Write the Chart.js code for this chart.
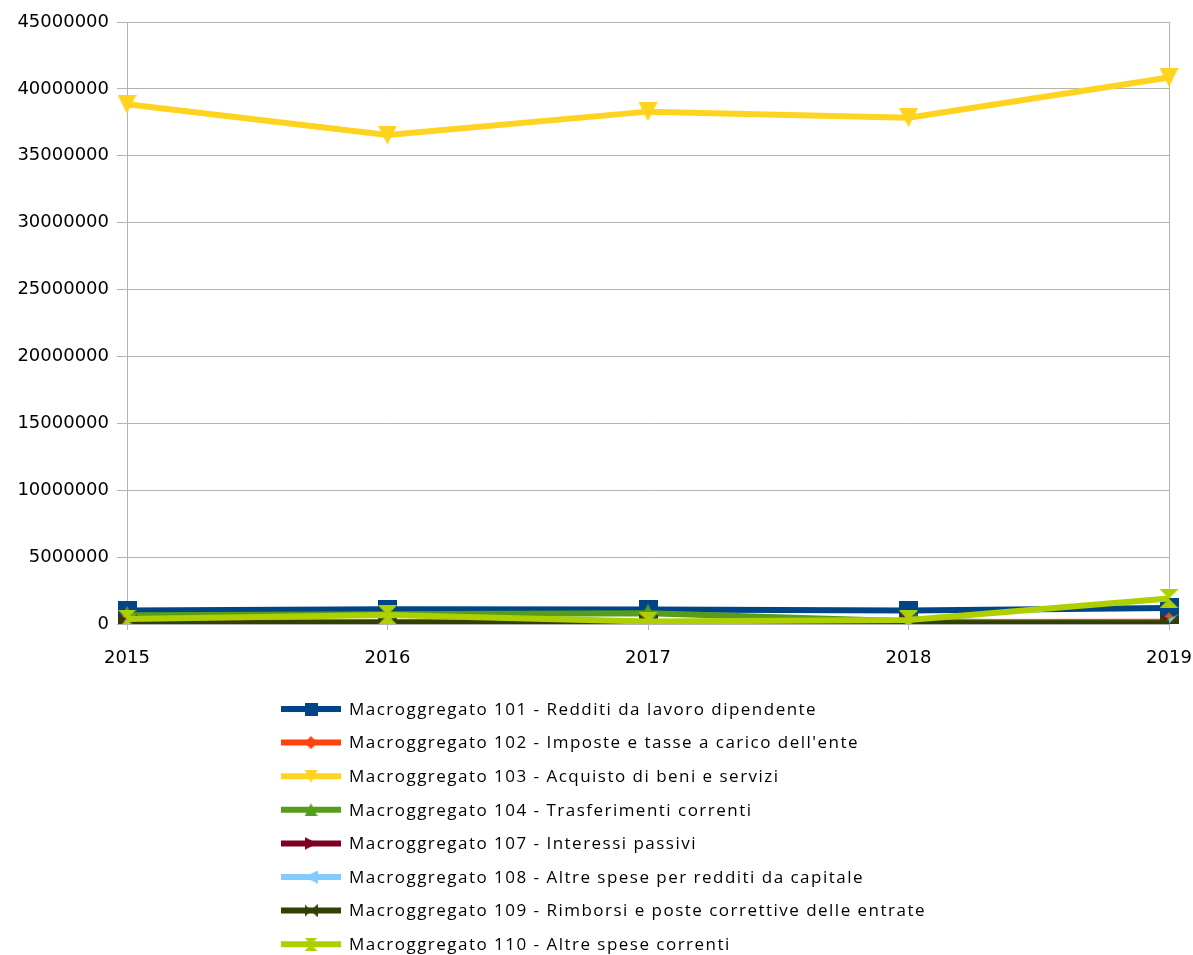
<!DOCTYPE html>
<html>
<head>
<meta charset="utf-8">
<script src="https://cdn.jsdelivr.net/npm/chart.js@4/dist/chart.umd.min.js"></script>
<style>
	html, body { margin: 0; padding: 0; background: #fff; }
	#wrap { width: 1193px; height: 955px; }
</style>
</head>
<body>
<div id="wrap"><canvas id="chart"></canvas></div>
<script>
// anni sull'asse x
const years = ['2015', '2016', '2017', '2018', '2019'];

// una serie per macroaggregato (in euro)
const labels = [
	'Macroggregato 101 - Redditi da lavoro dipendente',
	'Macroggregato 102 - Imposte e tasse a carico dell\'ente',
	'Macroggregato 103 - Acquisto di beni e servizi',
	'Macroggregato 104 - Trasferimenti correnti',
	'Macroggregato 107 - Interessi passivi',
	'Macroggregato 108 - Altre spese per redditi da capitale',
	'Macroggregato 109 - Rimborsi e poste correttive delle entrate',
	'Macroggregato 110 - Altre spese correnti',
];
const m101 = [1000000, 1100000, 1080000, 1000000, 1200000];
const m102 = [120000, 150000, 140000, 150000, 160000];
const m103 = [38850000, 36550000, 38300000, 37850000, 40850000];
const m104 = [650000, 720000, 800000, 200000, 30000];
const m107 = [10000, 10000, 10000, 10000, 10000];
const m108 = [5000, 5000, 5000, 5000, 5000];
const m109 = [30000, 90000, 60000, 50000, 50000];
const m110 = [370000, 680000, 180000, 300000, 1900000];
const series = [m101, m102, m103, m104, m107, m108, m109, m110];

// palette LibreOffice di default
const colors = ['#004586', '#ff420e', '#ffd320', '#579d1c', '#7e0021', '#83caff', '#314004', '#aecf00'];
const shapes = ['square', 'diamond', 'triDown', 'triUp', 'triRight', 'triLeft', 'bowtieH', 'hourglass'];

// marker disegnati a mano: Chart.js accetta un canvas come pointStyle
function makeMarker(shape, color, size) {
	const c = document.createElement('canvas');
	c.width = size; c.height = size;
	const g = c.getContext('2d');
	const s = size, h = size / 2;
	g.fillStyle = color;
	g.beginPath();
	switch (shape) {
		case 'square': g.rect(0, 0, s, s); break;
		case 'diamond': g.moveTo(h, 0); g.lineTo(s, h); g.lineTo(h, s); g.lineTo(0, h); break;
		case 'triDown': g.moveTo(0, 0); g.lineTo(s, 0); g.lineTo(h, s); break;
		case 'triUp': g.moveTo(h, 0); g.lineTo(s, s); g.lineTo(0, s); break;
		case 'triRight': g.moveTo(0, 0); g.lineTo(s, h); g.lineTo(0, s); break;
		case 'triLeft': g.moveTo(s, 0); g.lineTo(0, h); g.lineTo(s, s); break;
		case 'bowtieH':
			g.moveTo(0, 0); g.lineTo(h, h); g.lineTo(0, s);
			g.moveTo(s, 0); g.lineTo(h, h); g.lineTo(s, s); break;
		case 'hourglass':
			g.moveTo(0, 0); g.lineTo(s, 0); g.lineTo(h, h);
			g.moveTo(0, s); g.lineTo(s, s); g.lineTo(h, h); break;
	}
	g.closePath();
	g.fill();
	return c;
}

const chartMarkers = shapes.map((sh, i) => makeMarker(sh, colors[i], 19));
const legendMarkers = shapes.map((sh, i) => makeMarker(sh, colors[i], 13));

const datasets = series.map((data, i) => ({
	label: labels[i],
	data,
	borderColor: colors[i],
	backgroundColor: colors[i],
	borderWidth: 6,
	pointStyle: chartMarkers[i],
	tension: 0,
	order: series.length - i,
}));

// legenda verticale sotto il grafico, come nell'originale
// (testo spaziato come il Calibri dell'export: la prima voce larga ~468px)
const bottomLegend = {
	id: 'bottomLegend',
	afterDraw(chart) {
		const ctx = chart.ctx;
		ctx.save();
		ctx.font = '17px "Open Sans"';
		const plain = ctx.measureText(labels[0]).width;
		ctx.letterSpacing = ((468 - plain) / labels[0].length).toFixed(2) + 'px';
		ctx.fillStyle = '#000';
		ctx.textBaseline = 'middle';
		labels.forEach((text, i) => {
			const y = 709 + i * 33.6;
			ctx.strokeStyle = colors[i];
			ctx.lineWidth = 6;
			ctx.beginPath();
			ctx.moveTo(281, y);
			ctx.lineTo(341, y);
			ctx.stroke();
			ctx.drawImage(legendMarkers[i], 311 - 6.5, y - 6.5);
			ctx.fillText(text, 349, y + 1);
		});
		ctx.restore();
	},
};

const grey = '#b3b3b3';
new Chart(document.getElementById('chart'), {
	type: 'line',
	data: { labels: years, datasets },
	options: {
		responsive: true,
		maintainAspectRatio: false,
		devicePixelRatio: 1,
		animation: false,
		layout: { padding: { top: 22, right: 24, left: 0, bottom: 0 } },
		scales: {
			x: {
				offset: false,
				grid: {
					color: c => (c.index === 0 || c.index === years.length - 1) ? grey : 'transparent',
					tickColor: grey,
					tickLength: 6,
				},
				border: { color: grey },
				ticks: { color: '#000', font: { family: 'DejaVu Sans', size: 18 }, padding: 18, maxRotation: 0 },
				// area del grafico fissa: niente spazio extra per l'etichetta "2019"
				afterFit: s => { s.height = 331; s.paddingLeft = 0; s.paddingRight = 0; },
			},
			y: {
				min: 0,
				max: 45000000,
				ticks: {
					stepSize: 5000000,
					color: '#000',
					font: { family: 'DejaVu Sans', size: 18 },
					padding: 8,
					callback: v => String(v),
				},
				grid: { color: grey, tickLength: 10 },
				border: { color: grey },
				afterFit: s => { s.width = 127; },
			},
		},
		plugins: {
			legend: { display: false },
			tooltip: { enabled: false },
		},
	},
	plugins: [bottomLegend],
});
</script>
</body>
</html>
